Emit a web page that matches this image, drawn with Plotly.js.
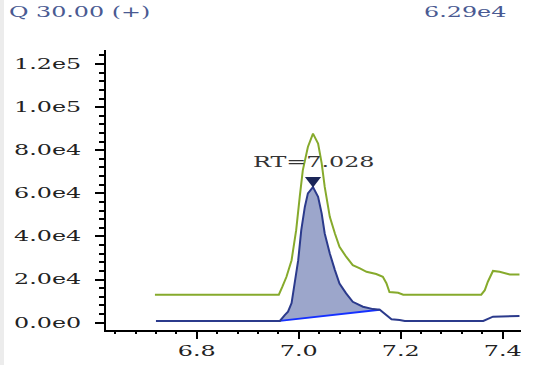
<!DOCTYPE html>
<html>
<head>
<meta charset="utf-8">
<script src="https://cdn.plot.ly/plotly-3.0.1.min.js"></script>
<style>
  html, body { margin: 0; padding: 0; background: #ffffff; }
  #strip { position: fixed; left: 0; top: 0; width: 4px; height: 365px; background: #ececec; z-index: 5; }
  #chart { width: 534px; height: 365px; }
</style>
</head>
<body>
<div id="strip"></div>
<div id="chart"></div>
<script>
// ---- data ----
const greenX = [6.718, 6.961, 6.968, 6.976, 6.986, 6.995, 7.002, 7.008, 7.018, 7.028, 7.038, 7.045, 7.051, 7.061, 7.071, 7.080, 7.093, 7.106, 7.120, 7.133, 7.152, 7.165, 7.172, 7.178, 7.195, 7.205, 7.358, 7.365, 7.371, 7.381, 7.394, 7.404, 7.414, 7.433];
const greenY = [13000, 13000, 16700, 21300, 29000, 42900, 58400, 70700, 81500, 87700, 83100, 74000, 63000, 49100, 41400, 35200, 30600, 26700, 25200, 23600, 22600, 21300, 18300, 14200, 13900, 13000, 13000, 15100, 19000, 24000, 23600, 22900, 22400, 22400];

const blueX = [6.720, 6.963, 6.973, 6.979, 6.986, 6.992, 6.999, 7.005, 7.012, 7.018, 7.028, 7.038, 7.045, 7.051, 7.061, 7.071, 7.080, 7.093, 7.106, 7.126, 7.146, 7.159, 7.172, 7.182, 7.198, 7.208, 7.362, 7.369, 7.381, 7.433];
const blueY = [800, 800, 3600, 5100, 9100, 17500, 29000, 42900, 53700, 60000, 62900, 58400, 50700, 41400, 32100, 24400, 18200, 13600, 9700, 7400, 6300, 6000, 3600, 1600, 1250, 800, 800, 1600, 2800, 3100];

const peakStart = 6.963;
const peakEnd = 7.159;
const rt = 7.028;
const rtLabel = "RT=7.028";
const headerLeft = "Q 30.00 (+)";
const headerRight = "6.29e4";

const xTickVals = [6.8, 7.0, 7.2, 7.4];
const xTickText = ["6.8", "7.0", "7.2", "7.4"];
const yTickVals = [0, 20000, 40000, 60000, 80000, 100000, 120000];
const yTickText = ["0.0e0", "2.0e4", "4.0e4", "6.0e4", "8.0e4", "1.0e5", "1.2e5"];

// ---- derived ----
const segX = [], segY = [];
blueX.forEach((x, i) => { if (x >= peakStart && x <= peakEnd) { segX.push(x); segY.push(blueY[i]); } });
const baseX = [segX[0], segX[segX.length - 1]];
const baseY = [segY[0], segY[segY.length - 1]];
const peakY = Math.max(...blueY);

const yRange = [-3390, 126500];
const xRange = [6.622, 7.436];
const plotH = 280;
const markerOffset = 6.5 * (yRange[1] - yRange[0]) / plotH;

const serif = "DejaVu Serif";
const FS = 14;
const STRETCH = 1.7;

const traces = [
  { x: segX, y: segY, mode: 'lines', fill: 'toself', fillcolor: '#9ca6cb', line: { width: 0 }, hoverinfo: 'skip' },
  { x: baseX, y: baseY, mode: 'lines', line: { color: '#1530ff', width: 1.8 } },
  { x: blueX, y: blueY, mode: 'lines', line: { color: '#2b3a8c', width: 2 } },
  { x: greenX, y: greenY, mode: 'lines', line: { color: '#86aa2c', width: 2 } },
  { x: [rt], y: [peakY + markerOffset], mode: 'markers', marker: { symbol: 'triangle-down', size: 14, color: '#1b2658' } }
];

const layout = {
  width: 534, height: 365,
  margin: { l: 106, r: 13, t: 50, b: 35 },
  paper_bgcolor: '#ffffff', plot_bgcolor: '#ffffff',
  showlegend: false,
  font: { family: serif, size: FS, color: '#222222' },
  xaxis: {
    range: xRange, showgrid: false, zeroline: false,
    showline: true, linecolor: '#000000', linewidth: 2,
    tickmode: 'array', tickvals: xTickVals, ticktext: xTickText,
    ticks: 'outside', ticklen: 7, tickwidth: 2, tickcolor: '#000000',
    ticklabelstandoff: 0,
    minor: { dtick: 0.04, tick0: 6.6, ticks: 'outside', ticklen: 2, tickwidth: 2, tickcolor: '#000000', showgrid: false },
    tickfont: { family: serif, size: FS, color: '#222222' }
  },
  yaxis: {
    range: yRange, showgrid: false, zeroline: false,
    showline: true, linecolor: '#000000', linewidth: 2,
    tickmode: 'array', tickvals: yTickVals, ticktext: yTickText,
    ticks: 'outside', ticklen: 9, tickwidth: 2, tickcolor: '#000000',
    ticklabelstandoff: 11,
    minor: { dtick: 4000, tick0: 0, ticks: 'outside', ticklen: 5, tickwidth: 2, tickcolor: '#000000', showgrid: false },
    tickfont: { family: serif, size: FS, color: '#222222' }
  },
  annotations: [
    { text: headerLeft, xref: 'paper', yref: 'paper', x: -0.065, y: 1.136, xanchor: 'center', yanchor: 'middle', showarrow: false,
      font: { family: serif, size: FS, color: '#4a5a92' } },
    { text: headerRight, xref: 'paper', yref: 'paper', x: 0.865, y: 1.136, xanchor: 'center', yanchor: 'middle', showarrow: false,
      font: { family: serif, size: FS, color: '#4a5a92' } },
    { text: rtLabel, x: rt, y: peakY, xref: 'x', yref: 'y', yshift: 25, xshift: 1, showarrow: false, xanchor: 'center', yanchor: 'middle',
      font: { family: serif, size: FS, color: '#333333' } }
  ]
};

Plotly.newPlot('chart', traces, layout, { staticPlot: true, displayModeBar: false }).then(gd => {
  // the reference uses a horizontally wide typeface: stretch each text's glyphs
  gd.querySelectorAll('text').forEach(t => {
    const w = t.getComputedTextLength();
    if (w > 0) {
      t.setAttribute('textLength', (w * STRETCH).toFixed(1));
      t.setAttribute('lengthAdjust', 'spacingAndGlyphs');
    }
  });
});
</script>
</body>
</html>
